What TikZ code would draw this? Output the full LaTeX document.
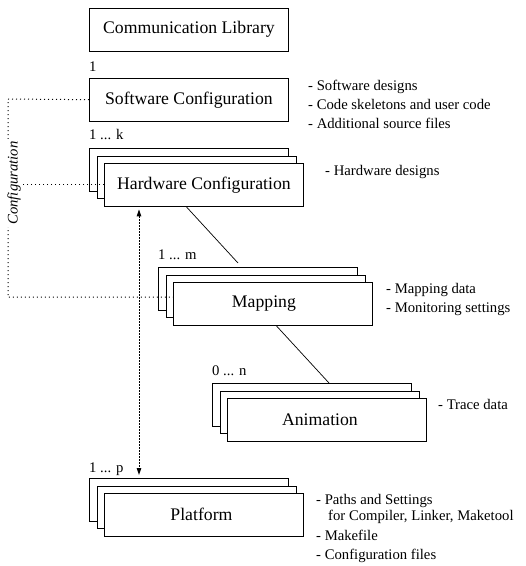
\documentclass[tikz,border=0pt]{standalone}
\usepackage{fontspec}
\setmainfont{Liberation Serif}
\usetikzlibrary{arrows.meta}
\tikzset{
  boxst/.style={draw, fill=white, line width=0.9pt, minimum width=199pt, minimum height=42.5pt, inner sep=0pt, anchor=north west, font=\fontsize{17.7}{20}\selectfont},
  annot/.style={anchor=base west, inner sep=0pt, font=\fontsize{14.7}{18}\selectfont},
  mult/.style={anchor=base west, inner sep=0pt, font=\fontsize{14.7}{18}\selectfont},
  dotline/.style={line width=1pt, dash pattern=on 1pt off 3pt},
  arrdot/.style={line width=1pt, dash pattern=on 1.5pt off 1.5pt},
  conn/.style={line width=0.7pt}
}
\newcommand\mystack[4]{%
  \node[boxst] (#1c) at (#2,#3) {};
  \node[boxst] (#1b) at (#2+7.5,#3+7.5) {};
  \node[boxst] (#1) at (#2+15,#3+15) {#4};
}
\begin{document}
\begin{tikzpicture}[x=1pt,y=-1pt]
\useasboundingbox (0,0) rectangle (526,566);
% single boxes
\node[boxst] (cl) at (89,8) {Communication Library};
\node[boxst] (sw) at (89,78) {Software Configuration};
% stacks
\mystack{hw}{89}{148}{Hardware Configuration}
\mystack{mp}{158}{267}{Mapping\hspace*{18pt}}
\mystack{an}{212}{383}{Animation\hspace*{14pt}}
\mystack{pf}{89}{478}{Platform\hspace*{5pt}}
% multiplicities
\node[mult] (m1) at (89,71) {1};
\node[mult] (m2) at (89,139.5) {1 ... k};
\node[mult] (m3) at (158,259) {1 ... m};
\node[mult] (m4) at (212,375) {0 ... n};
\node[mult] (m5) at (89,472.5) {1 ... p};
% annotations
\node[annot] (a1) at (308,90) {- Software designs};
\node[annot] (a2) at (308,109) {- Code skeletons and user code};
\node[annot] (a3) at (308,128) {- Additional source files};
\node[annot] (a4) at (325,175) {- Hardware designs};
\node[annot] (a5) at (386,293) {- Mapping data};
\node[annot] (a6) at (386,312.5) {- Monitoring settings};
\node[annot] (a7) at (438,409) {- Trace data};
\node[annot] (a8) at (316,504.5) {- Paths and Settings};
\node[annot] (a9) at (328,520) {for Compiler, Linker, Maketool};
\node[annot] (a10) at (316,540) {- Makefile};
\node[annot] (a11) at (316,559) {- Configuration files};
% connectors
\draw[conn] ([xshift=82pt]hw.south west) -- ([xshift=80pt,yshift=4pt]mpc.north west);
\draw[conn] ([xshift=103pt]mp.south west) -- ([xshift=117pt]anc.north west);
\draw[arrdot, {Triangle[width=4.5pt,length=7pt]}-{Triangle[width=4.5pt,length=7pt]}]
  ([xshift=35pt,yshift=-3pt]hw.south west) -- ([xshift=50pt,yshift=3pt]pfc.north west);
% configuration dotted lines
\coordinate (ctop) at (8,99);
\coordinate (cbot) at (8,297);
\draw[dotline] (sw.west) -- (ctop) -- (cbot) -- (cbot -| mp.west);
\draw[dotline] (hw.west) -- (hw.west -| ctop);
\node[fill=white, rotate=90, inner sep=2pt, font=\fontsize{14.7}{18}\selectfont\itshape] (cfg) at (14,183) {Configuration};
\end{tikzpicture}
\end{document}
